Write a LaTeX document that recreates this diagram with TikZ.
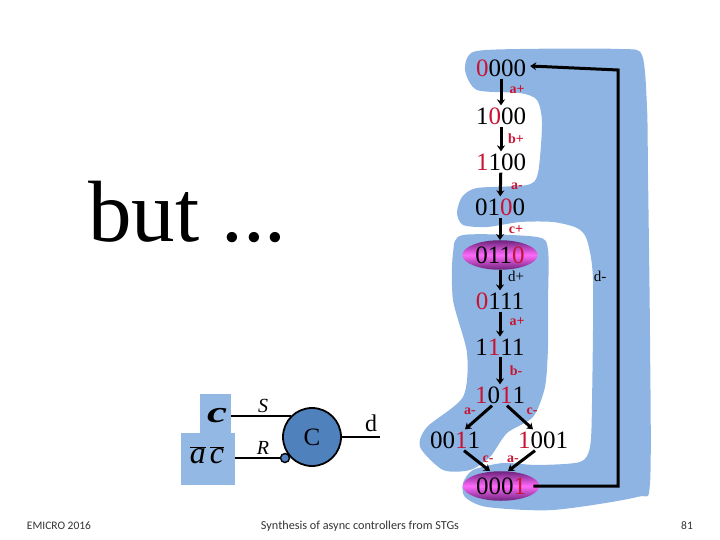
\documentclass[tikz,border=0pt]{standalone}
\usepackage{fontspec}
\setmainfont{Liberation Serif}
\newfontfamily\footfont{Carlito}
\usetikzlibrary{arrows.meta,shapes.geometric}
\definecolor{blobblue}{RGB}{141,180,226}
\definecolor{gateblue}{RGB}{79,129,189}
\definecolor{digitred}{RGB}{200,20,50}
\definecolor{ballmid}{RGB}{255,105,250}
\definecolor{balledge}{RGB}{110,35,125}
\newcommand{\rd}[1]{\textcolor{digitred}{#1}}
\tikzset{
  code/.style={inner sep=2pt, font=\fontsize{25}{25}\selectfont},
  codeball/.style={code, ellipse, minimum width=72pt, minimum height=27pt, top color=balledge, bottom color=balledge, middle color=ballmid},
  evt/.style={inner sep=0pt, font=\fontsize{14}{14}\selectfont\bfseries, text=digitred},
  evtb/.style={inner sep=0pt, font=\fontsize{15}{15}\selectfont},
  flow/.style={-{Stealth[length=6pt,width=8pt]}, line width=3pt},
  wire/.style={line width=2.6pt},
  sig/.style={inner sep=0pt, font=\fontsize{20}{20}\selectfont\itshape},
  foot/.style={inner sep=0pt, font=\fontsize{11.5}{12}\selectfont\footfont, text=black!80},
  patch/.style={fill=blobblue!95!white},
}
\begin{document}
\begin{tikzpicture}[x=1pt,y=-1pt]
    \useasboundingbox (0,0) rectangle (720,540);
    % blue regions
    \fill[blobblue] plot[smooth cycle, tension=0.45] coordinates {(465,70) (473,52) (520,49) (620,49) (642,55) (647,107) (648,173) (650,337) (650,483) (637,497) (553,510) (487,507) (465,497) (463,483) (473,470) (503,463) (537,465) (580,462) (590,447) (592,403) (593,280) (587,240) (577,228) (553,222) (520,222) (487,227) (463,225) (457,213) (462,197) (477,188) (527,185) (538,173) (542,123) (537,100) (520,93) (477,90)};
    \fill[blobblue] plot[smooth cycle, tension=0.45] coordinates {(453,253) (463,235) (537,237) (548,250) (548,303) (548,347) (545,387) (533,417) (507,433) (490,457) (470,470) (443,470) (420,447) (427,427) (463,397) (467,353) (453,300)};
    % title
    \node[inner sep=0pt, font=\fontsize{87}{87}\selectfont] (title) at (187.5,212) {but ...};
    % states
    \node[code] (n0000) at (501,68) {\rd{0}000};
    \node[code] (n1000) at (501,116) {1\rd{0}00};
    \node[code] (n1100) at (501,162) {\rd{1}100};
    \node[code] (n0100) at (500,207) {01\rd{0}0};
    \node[codeball] (n0110) at (500,255) {011\rd{0}};
    \node[code] (n0111) at (500,301) {\rd{0}111};
    \node[code] (n1111) at (500,347) {1\rd{1}11};
    \node[code] (n1011) at (500,395) {\rd{1}0\rd{1}1};
    \node[code] (n0011) at (455,440) {00\rd{1}1};
    \node[code] (n1001) at (543,440) {\rd{1}001};
    \node[codeball] (n0001) at (501,486) {000\rd{1}};
    % transitions
    \draw[flow] (n0000) -- (n1000);
    \draw[flow] (n1000) -- (n1100);
    \draw[flow] (n1100) -- (n0100);
    \draw[flow] (n0100) -- (n0110);
    \draw[flow] (n0110) -- (n0111);
    \draw[flow] (n0111) -- (n1111);
    \draw[flow] (n1111) -- (n1011);
    \draw[flow] ([xshift=-8pt]n1011.south) -- ([xshift=10pt]n0011.north);
    \draw[flow] ([xshift=7pt]n1011.south) -- ([xshift=-10pt]n1001.north);
    \draw[flow] ([xshift=9pt]n0011.south) -- ([xshift=-11pt]n0001.north);
    \draw[flow] ([xshift=-8pt]n1001.south) -- ([xshift=7pt]n0001.north);
    \coordinate (cornerb) at (618,486);
    \coordinate (cornert) at (618,70);
    \draw[flow] ([xshift=-6pt]n0001.east) -- (cornerb) -- (cornert) -- ([xshift=2pt,yshift=2pt]n0000.east);
    % event labels
    \node[evt] (la1) at (517,90) {a+};
    \node[evt] (lb1) at (516,139) {b+};
    \node[evt] (la2) at (517,186) {a-};
    \node[evt] (lc1) at (516,230) {c+};
    \node[evtb] (ld1) at (516,276) {d+};
    \node[evtb] (ld2) at (600,276) {d-};
    \node[evt] (la3) at (517,322) {a+};
    \node[evt] (lb2) at (516,371) {b-};
    \node[evt] (la4) at (470,411) {a-};
    \node[evt] (lc2) at (532,411) {c-};
    \node[evt] (lc3) at (488,459) {c-};
    \node[evt] (la5) at (513,459) {a-};
    % gate
    \node[patch, minimum width=31pt, minimum height=39pt, inner sep=0pt] (boxc) at (215.5,413.5) {};
    \node[patch, minimum width=54pt, minimum height=52pt, inner sep=0pt] (boxac) at (208,459) {};
    \node[inner sep=0pt, xscale=1.5, transform shape, font=\fontsize{30}{30}\selectfont\bfseries\itshape] (lblc) at (217,416) {c};
    \node[inner sep=0pt, font=\fontsize{32}{32}\selectfont\itshape] (lblac) at (207,455) {$\overline{\mbox{\itshape a}}\,\overline{\mbox{\itshape c}}$};
    \node[draw=black, line width=1.8pt, fill=gateblue, circle, minimum size=58pt, inner sep=0pt, font=\fontsize{25}{25}\selectfont] (gate) at (312,437) {C};
    \node[draw=black, line width=1.4pt, fill=gateblue, circle, minimum size=9pt, inner sep=0pt] (bubble) at (285,458) {};
    \coordinate (dout) at (380,437);
    \draw[wire] (boxc.east |- 0,416) -- (291,416);
    \draw[wire] (boxac.east |- bubble) -- (bubble);
    \draw[wire] (gate.east) -- (dout);
    \node[sig] (lbls) at (263,406) {S};
    \node[sig] (lblr) at (263,448) {R};
    \node[inner sep=0pt, font=\fontsize{24}{24}\selectfont] (lbld) at (371,423) {d};
    % footer
    \node[foot] (footl) at (59,526) {EMICRO 2016};
    \node[foot, font=\fontsize{12.2}{13}\selectfont\footfont] (footm) at (360,526) {Synthesis of async controllers from STGs};
    \node[foot] (footr) at (687,526) {81};
  \end{tikzpicture}
\end{document}
